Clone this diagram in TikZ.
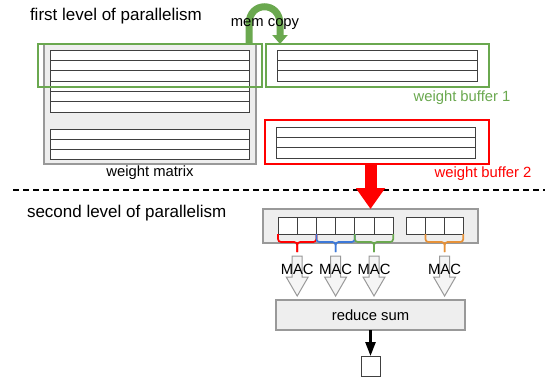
\documentclass[tikz,border=0pt]{standalone}
\usepackage{fontspec}
\setmainfont{Liberation Sans}
\usetikzlibrary{arrows.meta}
\definecolor{selgreen}{HTML}{6AA84F}
\definecolor{selred}{HTML}{FF0000}
\definecolor{selblue}{HTML}{3C78D8}
\definecolor{selorange}{HTML}{E69138}
\definecolor{boxgray}{HTML}{EEEEEE}
\definecolor{edgegray}{HTML}{999999}
\definecolor{rowgray}{HTML}{404040}

% brace under two cells: color, left cell, right cell, name of tip
\newcommand{\macbrace}[4]{%
  \draw[#1, line width=1.7pt, rounded corners=3pt] (#2.south west) -- ++(0,8) -| ([yshift=-18pt]#2.south east);
  \draw[#1, line width=1.7pt, rounded corners=3pt] (#3.south east) -- ++(0,8) -| ([yshift=-18pt]#2.south east);
  \coordinate (#4) at ([yshift=-18pt]#2.south east);
}
% hollow arrow below a brace tip
\newcommand{\macarrow}[1]{%
  \draw[edgegray, fill=boxgray!60, line width=1pt] (#1) ++(-5,4) -- ++(0,21) -- ++(-6,0) -- ++(11,19) -- ++(11,-19) -- ++(-6,0) -- ++(0,-21) -- cycle;
}

\begin{document}
\begin{tikzpicture}[x=1pt, y=-1pt, font=\fontsize{14.8pt}{17pt}\selectfont,
  every node/.style={inner sep=0pt, outer sep=0pt},
  graybox/.style={rectangle, draw=edgegray, fill=boxgray, line width=1.2pt},
  rowbox/.style={rectangle, draw=rowgray, fill=white, line width=1pt},
  selbox/.style={rectangle, draw=#1, line width=1.3pt},
  cell/.style={rectangle, draw=rowgray, fill=white, line width=1pt, minimum width=19.2pt, minimum height=17pt},
  heading/.style={anchor=west, font=\fontsize{17pt}{20pt}\selectfont}]
\useasboundingbox (0,0) rectangle (548,381);

% first level
\node[heading] (lvl1) at (30,16) {first level of parallelism};
\node[graybox, minimum width=212pt, minimum height=120pt] (wmat) at (150,104) {};
\node[rowbox, minimum width=199pt, minimum height=62pt] (wrowsA) at (149.5,81) {};
\foreach \k in {1,...,5}
  \draw[rowgray, line width=1pt] (wrowsA.north west) ++(0,62*\k/6) -- ++(199,0);
\node[rowbox, minimum width=199pt, minimum height=30pt] (wrowsB) at (149.5,144) {};
\foreach \k in {1,2}
  \draw[rowgray, line width=1pt] (wrowsB.north west) ++(0,10*\k) -- ++(199,0);
\node (wmatlbl) at (150,173) {weight matrix};
\node[selbox=selgreen, minimum width=224pt, minimum height=43pt] (sel1) at (150,65.5) {};

\node[selbox=selgreen, minimum width=223pt, minimum height=43pt] (buf1) at (377.5,65.5) {};
\node[rowbox, minimum width=200pt, minimum height=31pt] (buf1rows) at (377,65.5) {};
\foreach \k in {1,2}
  \draw[rowgray, line width=1pt] (buf1rows.north west) ++(0,31*\k/3) -- ++(200,0);
\node[text=selgreen] (buf1lbl) at (462,98) {weight buffer 1};

\node[selbox=selred, minimum width=224pt, minimum height=44pt] (buf2) at (377,142) {};
\node[rowbox, minimum width=199pt, minimum height=31pt] (buf2rows) at (375.5,142.5) {};
\foreach \k in {1,2}
  \draw[rowgray, line width=1pt] (buf2rows.north west) ++(0,31*\k/3) -- ++(199,0);
\node[text=selred] (buf2lbl) at (483,174) {weight buffer 2};

\draw[selgreen, line width=7pt, -{Triangle[width=15pt, length=9pt]}]
  ([xshift=-13pt]sel1.north east) -- ++(0,-20) .. controls +(0,-23) and +(0,-23) .. ([shift={(14pt,20pt)}]buf1.north west) -- ([xshift=14pt]buf1.north west);
\node (cpylbl) at (265,24) {mem copy};

% split
\coordinate (dashL) at (13,190);
\coordinate (dashR) at (545,190);
\draw[black, line width=1.4pt, dash pattern=on 6pt off 4pt] (dashL) -- (dashR);

% second level
\node[heading] (lvl2) at (27,213) {second level of parallelism};
\node[graybox, minimum width=215pt, minimum height=34pt] (regs) at (370.5,226) {};
\foreach \i/\cx in {1/287.6, 2/306.8, 3/326, 4/345.2, 5/364.4, 6/383.6, 7/416.3, 8/435, 9/453.7}
  \node[cell] (c\i) at (\cx,225.5) {};

\draw[selred, line width=12pt, -{Triangle[width=28pt, length=21pt]}] (regs.north |- buf2.south) -- (regs.north);

\macbrace{selred}{c1}{c2}{m1}
\macbrace{selblue}{c3}{c4}{m2}
\macbrace{selgreen}{c5}{c6}{m3}
\macbrace{selorange}{c8}{c9}{m4}
\foreach \m in {m1,m2,m3,m4} {
  \macarrow{\m}
  \node (lbl\m) at ([yshift=-17pt]\m) {MAC};
}

\node[graybox, minimum width=189pt, minimum height=30pt] (rsum) at (370.5,315) {reduce sum};
\node[rectangle, draw=rowgray, fill=white, line width=1pt, minimum width=19pt, minimum height=20pt] (outsq) at (370.5,366) {};
\draw[black, line width=2.5pt, -{Triangle[width=10pt, length=14pt]}] (rsum) -- (outsq);
\end{tikzpicture}
\end{document}
